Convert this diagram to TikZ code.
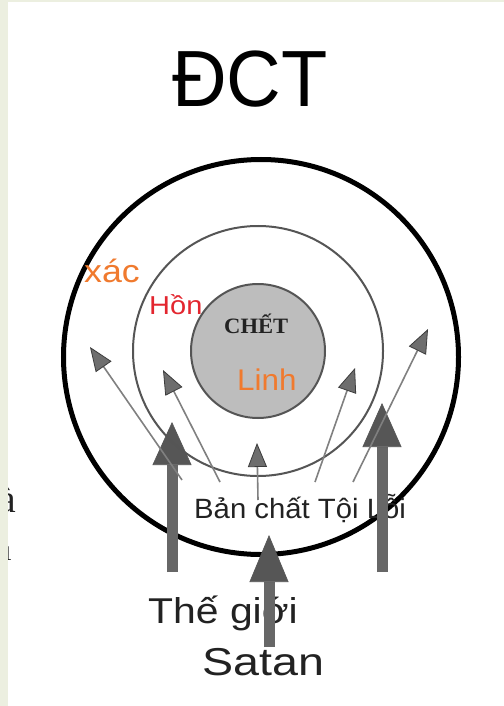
\documentclass[tikz,border=0pt]{standalone}
\usepackage{fontspec}
\setmainfont{Liberation Sans}
\newfontfamily\serifL{Liberation Serif}
\usetikzlibrary{arrows.meta}
\definecolor{bgstrip}{HTML}{ECEFE0}
\definecolor{orangeT}{HTML}{F07A2E}
\definecolor{redT}{HTML}{E3262F}
\definecolor{innerfill}{HTML}{BDBDBD}
\definecolor{ringgray}{HTML}{555555}
\definecolor{thinline}{HTML}{808080}
\definecolor{thinhead}{HTML}{6E6E6E}
\definecolor{thinedge}{HTML}{3C3C3C}
\definecolor{thickshaft}{HTML}{676767}
\definecolor{thickhead}{HTML}{565656}
\definecolor{textdark}{HTML}{222222}
\begin{document}
\begin{tikzpicture}[x=1bp,y=-1bp,
  lbl/.style={inner sep=0pt, anchor=base west},
  ring/.style={circle, inner sep=0pt},
  thinarrow/.style={draw=thinline, line width=1.6bp,
    -{Triangle[length=24bp,width=19bp,line width=0.8bp,color=thinedge,fill=thinhead]}},
  thickarrow/.style={draw=thickshaft, line width=11bp,
    -{Triangle[length=#1,width=39bp,line width=0.6bp,color=thickhead,fill=thickhead]}}
]
\useasboundingbox (0,0) rectangle (504,706);
\fill[white] (0,0) rectangle (504,706);

% left-edge text fragments
\node[lbl, anchor=base east, text=textdark, font=\serifL\fontsize{40}{40}\selectfont] (fragA) at (16,512) {à};
\node[lbl, anchor=base east, text=textdark, font=\serifL\fontsize{30}{30}\selectfont] (fragB) at (12,560) {ı};
\fill[bgstrip] (0,0) rectangle (8,706);
\fill[bgstrip] (0,0) rectangle (504,2.5);

% title
\node[lbl, anchor=base, xscale=0.95, font=\fontsize{80}{80}\selectfont] (title) at (250,107) {ĐCT};

% outer circle
\node[ring, draw=black, line width=5bp, minimum size=395bp] (outer) at (261,357) {};

% labels
\node[lbl, text=orangeT, xscale=1.12, font=\fontsize{32}{32}\selectfont] (xac) at (84,282) {xác};
\node[lbl, text=redT, xscale=1.12, font=\fontsize{26}{26}\selectfont] (hon) at (149,314) {Hồn};
\node[lbl, text=textdark, xscale=1.05, font=\fontsize{28}{28}\selectfont] (bcl) at (194,518) {Bản chất Tội Lỗi};
\node[lbl, text=textdark, xscale=1.14, font=\fontsize{36}{36}\selectfont] (tg) at (148,623) {Thế giới};
\node[lbl, text=textdark, xscale=1.2, font=\fontsize{39}{39}\selectfont] (satan) at (202,675) {Satan};

% thick arrows
\coordinate (Lt) at (172,572); \coordinate (Lh) at (172,422);
\coordinate (Rt) at (382,572); \coordinate (Rh) at (382,403);
\coordinate (Ct) at (269,647); \coordinate (Ch) at (269,535);
\draw[thickarrow=43bp] (Lt) -- (Lh);
\draw[thickarrow=44bp] (Rt) -- (Rh);
\draw[thickarrow=47bp] (Ct) -- (Ch);

% middle circle
\node[ring, draw=ringgray, line width=2bp, minimum size=250bp] (middle) at (258,351) {};

% inner circle
\node[ring, draw=ringgray, fill=innerfill, line width=2bp, minimum size=134bp] (inner) at (258,351) {};
\node[lbl, text=textdark, xscale=1.03, font=\serifL\bfseries\fontsize{22}{22}\selectfont] (chet) at (224,333) {CHẾT};
\node[lbl, text=orangeT, xscale=1.05, font=\fontsize{30}{30}\selectfont] (linh) at (237,390) {Linh};

% thin arrows
\coordinate (a1t) at (182,480); \coordinate (a1h) at (90,347);
\coordinate (a2t) at (220,482); \coordinate (a2h) at (163,370);
\coordinate (a3t) at (258,500); \coordinate (a3h) at (257,443);
\coordinate (a4t) at (315,482); \coordinate (a4h) at (355,368);
\coordinate (a5t) at (353,482); \coordinate (a5h) at (428,329);
\draw[thinarrow] (a1t) -- (a1h);
\draw[thinarrow] (a2t) -- (a2h);
\draw[thinarrow] (a3t) -- (a3h);
\draw[thinarrow] (a4t) -- (a4h);
\draw[thinarrow] (a5t) -- (a5h);
\end{tikzpicture}
\end{document}
